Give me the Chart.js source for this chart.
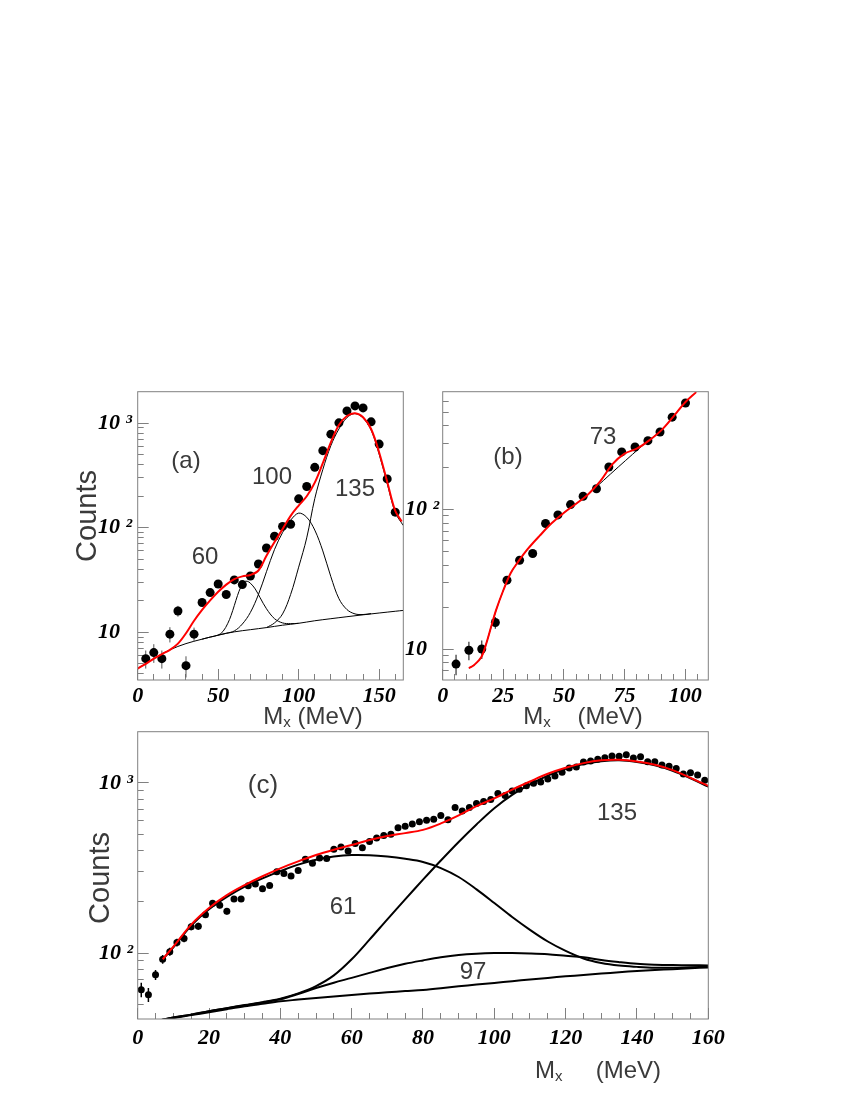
<!DOCTYPE html>
<html>
<head>
<meta charset="utf-8">
<script src="https://cdn.jsdelivr.net/npm/chart.js@4.4.1/dist/chart.umd.min.js"></script>
<style>
    html, body { margin: 0; padding: 0; background: #fff; }
    #wrap { position: relative; width: 850px; height: 1100px; }
    canvas { position: absolute; left: 0; top: 0; }
</style>
</head>
<body>
<div id="wrap">
    <canvas id="chartA" width="850" height="1100"></canvas>
    <canvas id="chartB" width="850" height="1100"></canvas>
    <canvas id="chartC" width="850" height="1100"></canvas>
</div>
<script>
// ---------- Panel (a) ----------
const xA = [5, 10, 15, 20, 25, 30, 35, 40, 45, 50, 55, 60, 65, 70, 75, 80, 85, 90, 95, 100,
            105, 110, 115, 120, 125, 130, 135, 140, 145, 150, 155, 160];
const yA = [5.6, 6.4, 5.6, 9.6, 16, 4.8, 9.6, 19.3, 24, 29, 23, 31.7, 28.6, 34.6, 45, 64, 83, 103, 108, 189,
            248, 378, 546, 785, 1007, 1310, 1462, 1400, 1030, 631, 293, 141];
const eA = [1.1, 1.3, 1.1, 1.6, 1.9, 1.1, 1.5, 1.2, 1.4, 1.5, 1.4, 1.6, 1.5, 1.7, 2, 2.5, 3, 3.3, 3.4, 4.5,
            5, 6.5, 8, 9, 10, 12, 13, 12, 10, 8, 5.5, 4];

const xRedA = [0, 5, 10, 15, 20, 25, 30, 35, 40, 45, 50, 55, 60, 65, 70, 75, 80, 85, 90, 95, 100,
               105, 110, 115, 120, 125, 130, 135, 140, 145, 150, 155, 160, 164];
const redA = [4.5, 5.0, 5.6, 6.2, 6.8, 7.8, 9.8, 12.9, 16.4, 20.2, 24.4, 28.6, 32.3, 34.3, 35.3, 39, 54, 73, 97, 130, 163,
              200, 270, 415, 655, 960, 1170, 1245, 1140, 880, 525, 275, 145, 115];

const xBgA = [0, 10, 20, 30, 40, 50, 60, 70, 80, 90, 100, 110, 120, 130, 140, 150, 160, 165];
const bgA = [4.5, 5.6, 6.8, 7.8, 8.6, 9.4, 10.1, 10.6, 11.1, 11.7, 12.2, 12.9, 13.5, 14.1, 14.7, 15.3, 15.9, 16.2];

const x60A = [40, 45, 50, 53, 56, 58, 60, 62, 64, 66, 68, 70, 73, 76, 80, 85, 90, 95, 100];
const c60A = [8.6, 9.0, 9.4, 10.2, 12.2, 14.5, 18, 22.5, 27, 30.3, 30.8, 29.5, 26, 21.5, 16.8, 13.5, 12.3, 12.1, 12.2];

const x100A = [50, 55, 60, 65, 70, 75, 80, 85, 90, 95, 100, 105, 110, 115, 120, 125, 130, 135, 140, 145];
const c100A = [9.4, 9.8, 10.3, 12, 15.5, 23, 38, 62, 90, 118, 138, 126, 95, 60, 34, 21, 16.5, 15, 14.8, 15.1];

const x135A = [80, 85, 90, 95, 100, 105, 110, 115, 120, 125, 130, 135, 140, 145, 150, 155, 160, 165];
const c135A = [11.1, 12.3, 15, 23, 42, 80, 190, 360, 610, 880, 1130, 1235, 1120, 860, 505, 265, 140, 105];

// ---------- Panel (b) ----------
const xB = [5.5, 10.8, 16.1, 21.7, 26.5, 31.7, 37.1, 42.4, 47.5, 52.7, 57.9, 63.4, 68.5, 73.8, 79.3,
            84.6, 89.6, 94.6, 100.1];
const yB = [7.8, 9.8, 10, 15.5, 31.2, 43.3, 48.4, 79.4, 91.6, 108.6, 124.5, 141, 202, 259, 281,
            312, 360, 460, 581];
const eB = [1.3, 1.5, 1.5, 1.5, 1.6, 1.8, 2, 2.5, 2.7, 3, 3.2, 3.4, 4, 4.5, 4.7, 5, 5.4, 6, 6.8];

const xRedB = [10.8, 13, 16, 18, 20, 22, 25, 28, 31, 35, 40, 45, 50, 55, 60, 65, 70, 75, 80, 85, 90, 95, 100, 104.5];
const redB = [7.3, 7.7, 8.8, 11, 14.5, 19, 26.4, 35, 42, 52, 65, 80, 95, 110, 129, 160, 212, 252, 273, 312, 368, 462, 588, 695];

const xBgB = [10.8, 13, 16, 18, 20, 22, 25, 28, 31, 35, 40, 45, 50, 55, 60, 72.4, 84.1, 90, 95, 100, 104.5];
const bgB = [7.3, 7.7, 8.8, 11, 14.5, 19, 26.4, 35, 42, 52, 65, 80, 95, 110, 129, 202, 305, 368, 462, 588, 695];

// ---------- Panel (c) ----------
const xC = [1, 3, 5, 7, 9, 11, 13, 15, 17, 19, 21, 23, 25, 27, 29, 31, 33, 35, 37, 39,
            41, 43, 45, 47, 49, 51, 53, 55, 57, 59, 61, 63, 65, 67, 69, 71, 73, 75, 77, 79,
            81, 83, 85, 87, 89, 91, 93, 95, 97, 99, 101, 103, 105, 107, 109, 111, 113, 115, 117, 119,
            121, 123, 125, 127, 129, 131, 133, 135, 137, 139, 141, 143, 145, 147, 149, 151, 153, 155, 157, 159];
const yC = [61, 57, 74.6, 92, 102, 115.5, 122, 143, 144, 168, 196, 191, 176, 208, 208, 249, 255, 239, 250, 301,
            294, 284, 306, 356, 337, 362, 360, 407, 420, 398, 441, 416, 453, 474, 491, 500, 546, 557, 573, 591,
            604, 612, 644, 607, 716, 685, 716, 757, 778, 799, 866, 843, 898, 918, 964, 995, 1013, 1055, 1099, 1155,
            1224, 1241, 1328, 1346, 1377, 1408, 1440, 1433, 1466, 1400, 1426, 1333, 1333, 1274, 1252, 1214, 1129, 1146, 1115, 1037];
const eC = [6, 5.4, 5, 5.5, 5.5, 6, 6.2, 6.8, 6.8, 7.3, 7.9, 7.8, 7.3, 8, 8, 8.7, 8.8, 8.5, 8.8, 9.6,
            9.5, 9.4, 9.7, 10.5, 10.2, 10.6, 10.6, 11.2, 11.4, 11, 11.6, 11.3, 11.8, 12, 12.3, 12.4, 13, 13.1, 13.3, 13.5,
            13.7, 13.8, 14.2, 13.8, 15, 14.6, 15, 15.4, 15.6, 15.8, 16.4, 16.2, 16.7, 16.9, 17.3, 17.6, 17.7, 18.1, 18.5, 19,
            19.5, 19.7, 20.3, 20.5, 20.7, 21, 21.2, 21.2, 21.4, 20.9, 21.1, 20.4, 20.4, 20, 19.8, 19.5, 18.8, 18.9, 18.7, 18];

const xFitC = [7, 10, 15, 20, 25, 30, 35, 40, 45, 50, 55, 60, 65, 70, 75, 80, 85, 90, 95, 100,
               105, 110, 115, 120, 125, 130, 135, 140, 145, 150, 155, 160];
const redC = [92, 109, 147, 184, 219, 251, 283, 315, 346, 377, 405, 432, 462, 488, 507, 530, 578, 645, 730, 812,
              914, 1020, 1133, 1228, 1307, 1358, 1368, 1335, 1278, 1190, 1072, 960];
const c61C = [92, 108, 145, 181, 214, 246, 275, 303, 331, 354, 369, 377, 376, 369, 358, 343, 316, 280, 237, 197,
              163, 137, 117, 103, 93, 87.5, 84.5, 83, 82, 82, 82.5, 83];

const xCompC = [6, 10, 15, 20, 25, 30, 35, 40, 45, 50, 55, 60, 65, 70, 75, 80, 85, 90, 95, 100,
                105, 110, 115, 120, 125, 130, 135, 140, 145, 150, 155, 160];
const bgC = [40.2, 41.6, 43.2, 44.9, 46.8, 48.7, 50.4, 52.1, 53.3, 54.5, 55.6, 56.7, 57.8, 58.9, 59.8, 60.7, 62.1, 63.8, 65.3, 66.8,
             68.4, 70, 71.5, 73, 74.4, 75.8, 77.2, 78.5, 79.5, 80.5, 81.5, 82.4];
const c97C = [40.2, 41.8, 43.5, 45.5, 47.4, 49.3, 51.2, 53.5, 57.5, 62.3, 67, 71.5, 76.5, 81.7, 86.5, 90.6, 94.5, 97.5, 99.2, 100,
              100, 99.5, 98.5, 96.5, 94.5, 91, 88.5, 86.5, 85.5, 85, 84.8, 84.7];
const c135C = [40.2, 41.8, 43.5, 45.6, 47.5, 49.5, 51.5, 54, 58, 64, 74, 92, 120, 158, 207, 270, 350, 450, 570, 710,
               850, 980, 1105, 1210, 1290, 1340, 1358, 1328, 1270, 1180, 1065, 950];

// Tick positions
const xMajorA = [0, 50, 100, 150];
const xMinorA = [10, 20, 30, 40, 60, 70, 80, 90, 110, 120, 130, 140, 160];
const xMajorB = [0, 25, 50, 75, 100];
const xMinorB = [5, 10, 15, 20, 30, 35, 40, 45, 55, 60, 65, 70, 80, 85, 90, 95, 105];
const xMajorC = [0, 20, 40, 60, 80, 100, 120, 140, 160];
const xMinorC = [5, 10, 15, 25, 30, 35, 45, 50, 55, 65, 70, 75, 85, 90, 95, 105, 110, 115, 125, 130, 135, 145, 150, 155];
const yMajorA = [10, 100, 1000];
const yMinorA = [4, 5, 6, 7, 8, 9, 20, 30, 40, 50, 60, 70, 80, 90, 200, 300, 400, 500, 600, 700, 800, 900];
const yMajorB = [10, 100];
const yMinorB = [7, 8, 9, 20, 30, 40, 50, 60, 70, 80, 90, 200, 300, 400, 500, 600];
const yMajorC = [100, 1000];
const yMinorC = [50, 60, 70, 80, 90, 200, 300, 400, 500, 600, 700, 800, 900];

// Helpers
function pts(xs, ys) {
    return xs.map((x, i) => ({x: x, y: ys[i]}));
}

function bars(xs, ys, es) {
    const d = [];
    xs.forEach((x, i) => {
        d.push({x: x, y: ys[i] - es[i]}, {x: x, y: ys[i] + es[i]}, {x: x, y: null});
    });
    return d;
}

function curve(xs, ys, color, width, order) {
    return {
        data: pts(xs, ys),
        borderColor: color,
        borderWidth: width,
        pointRadius: 0,
        tension: 0.35,
        fill: false,
        order: order
    };
}

function markers(xs, ys, radius) {
    return {
        data: pts(xs, ys),
        showLine: false,
        pointRadius: radius,
        pointBackgroundColor: '#000',
        pointBorderWidth: 0,
        order: 1
    };
}

function errorBars(xs, ys, es, color, width) {
    return {
        data: bars(xs, ys, es),
        borderColor: color,
        borderWidth: width,
        pointRadius: 0,
        tension: 0,
        spanGaps: false,
        order: 2
    };
}

const SUP = {2: '\u00B2', 3: '\u00B3'};
function powLabel(v) {
    const e = Math.round(Math.log10(v));
    return e === 1 ? '10' : '10 ' + SUP[e];
}

// Draw frame and free text
function drawText(ctx, t) {
    const parts = t.parts || [{text: t.text, size: t.size}];
    ctx.save();
    ctx.translate(t.x, t.y);
    if (t.rot) ctx.rotate(t.rot);
    ctx.fillStyle = '#3a3a3a';
    ctx.textBaseline = 'middle';
    ctx.textAlign = 'left';
    let w = 0;
    parts.forEach(p => {
        ctx.font = p.size + 'px "Liberation Sans"';
        p.w = ctx.measureText(p.text).width;
        w += p.w;
    });
    let x = -w / 2;
    parts.forEach(p => {
        ctx.font = p.size + 'px "Liberation Sans"';
        ctx.fillText(p.text, x, p.dy || 0);
        x += p.w;
    });
    ctx.restore();
}

const decor = {
    id: 'decor',
    afterDraw(chart, args, opts) {
        const ctx = chart.ctx;
        const a = chart.chartArea;
        ctx.save();
        ctx.strokeStyle = '#808080';
        ctx.lineWidth = 1;
        ctx.strokeRect(a.left, a.top, a.right - a.left, a.bottom - a.top);
        (opts.texts || []).forEach(t => drawText(ctx, t));
        ctx.restore();
    }
};

const tickFont = {family: 'Liberation Serif', size: 22, style: 'italic', weight: 'bold'};

function buildScales(c) {
    const setTicks = list => scale => { scale.ticks = list.map(v => ({value: v})); };
    return {
        x: {
            type: 'linear', position: 'bottom', weight: 1,
            min: c.xMin, max: c.xMax,
            afterBuildTicks: setTicks(c.xMajor),
            afterFit: s => { s.height = 40; },
            grid: {drawOnChartArea: false, tickLength: -11, tickColor: '#808080', tickWidth: 1},
            border: {display: false},
            ticks: {autoSkip: false, maxRotation: 0, padding: c.xPad, color: '#000', font: tickFont,
                    callback: v => String(v)}
        },
        xm: {
            type: 'linear', position: 'bottom', weight: 0,
            min: c.xMin, max: c.xMax,
            afterBuildTicks: setTicks(c.xMinor),
            afterFit: s => { s.height = 0; },
            grid: {drawOnChartArea: false, tickLength: -6, tickColor: '#808080', tickWidth: 1},
            border: {display: false},
            ticks: {display: false, autoSkip: false}
        },
        y: {
            type: 'logarithmic', position: 'left', weight: 1,
            min: c.yMin, max: c.yMax,
            afterBuildTicks: setTicks(c.yMajor),
            afterFit: s => { s.width = c.yAxisW; },
            grid: {drawOnChartArea: false, tickLength: -11, tickColor: '#808080', tickWidth: 1},
            border: {display: false},
            ticks: {autoSkip: false, crossAlign: 'far', color: '#000', font: tickFont,
                    callback: v => powLabel(v)}
        },
        ym: {
            type: 'logarithmic', position: 'left', weight: 0,
            min: c.yMin, max: c.yMax,
            afterBuildTicks: setTicks(c.yMinor),
            afterFit: s => { s.width = 0; },
            grid: {drawOnChartArea: false, tickLength: -6, tickColor: '#808080', tickWidth: 1},
            border: {display: false},
            ticks: {display: false, autoSkip: false}
        }
    };
}

function makeChart(id, c, datasets, texts) {
    const area = c.area;
    return new Chart(document.getElementById(id), {
        type: 'line',
        data: {datasets: datasets},
        options: {
            responsive: false,
            animation: false,
            devicePixelRatio: 1,
            events: [],
            layout: {
                padding: {
                    left: area.left - c.yAxisW,
                    top: area.top,
                    right: 850 - area.right,
                    bottom: 1100 - area.bottom - 40
                }
            },
            plugins: {
                legend: {display: false},
                tooltip: {enabled: false},
                decor: {texts: texts}
            },
            scales: buildScales(c)
        },
        plugins: [decor]
    });
}

const MX = (x, y, gap) => ({x: x, y: y, parts: [
    {text: 'M', size: 24}, {text: 'x', size: 15, dy: 6}, {text: gap + '(MeV)', size: 24}
]});

// Panel (a)
makeChart('chartA', {
    area: {left: 137.7, top: 391.7, right: 403.3, bottom: 680},
    yAxisW: 39.7, xMin: 0, xMax: 165, yMin: 3.5, yMax: 2000, xPad: 14,
    xMajor: xMajorA, xMinor: xMinorA, yMajor: yMajorA, yMinor: yMinorA
}, [
    curve(xRedA, redA, '#ff0000', 2, 0),
    markers(xA, yA, 4.5),
    errorBars(xA, yA, eA, '#555', 1),
    curve(xBgA, bgA, '#000', 1, 3),
    curve(x60A, c60A, '#000', 1, 3),
    curve(x100A, c100A, '#000', 1, 3),
    curve(x135A, c135A, '#000', 1, 3)
], [
    {text: '(a)', x: 186, y: 461, size: 24},
    {text: '60', x: 205, y: 557, size: 24},
    {text: '100', x: 272, y: 477, size: 24},
    {text: '135', x: 355, y: 489, size: 24},
    {text: 'Counts', x: 88, y: 516, size: 29, rot: -Math.PI / 2},
    MX(313, 717, ' ')
]);

// Panel (b)
makeChart('chartB', {
    area: {left: 442.7, top: 391.7, right: 708.3, bottom: 680},
    yAxisW: 37.7, xMin: 0, xMax: 109.5, yMin: 6, yMax: 700, xPad: 14,
    xMajor: xMajorB, xMinor: xMinorB, yMajor: yMajorB, yMinor: yMinorB
}, [
    curve(xRedB, redB, '#ff0000', 2, 0),
    markers(xB, yB, 4.5),
    errorBars(xB, yB, eB, '#333', 1.2),
    curve(xBgB, bgB, '#000', 1, 3)
], [
    {text: '(b)', x: 508, y: 457, size: 24},
    {text: '73', x: 603, y: 437, size: 24},
    MX(583, 717, '    ')
]);

// Panel (c)
makeChart('chartC', {
    area: {left: 137.7, top: 731.7, right: 708.3, bottom: 1019},
    yAxisW: 38.7, xMin: 0, xMax: 160, yMin: 41, yMax: 2000, xPad: 17,
    xMajor: xMajorC, xMinor: xMinorC, yMajor: yMajorC, yMinor: yMinorC
}, [
    curve(xFitC, redC, '#ff0000', 2, 0),
    markers(xC, yC, 3.5),
    errorBars(xC, yC, eC, '#000', 1.5),
    curve(xCompC, bgC, '#000', 2, 3),
    curve(xCompC, c97C, '#000', 2, 3),
    curve(xCompC, c135C, '#000', 2, 3),
    curve(xFitC, c61C, '#000', 2, 3)
], [
    {text: '(c)', x: 263, y: 786, size: 26},
    {text: '61', x: 343, y: 907, size: 24},
    {text: '135', x: 617, y: 813, size: 24},
    {text: '97', x: 473, y: 972, size: 24},
    {text: 'Counts', x: 101, y: 878, size: 29, rot: -Math.PI / 2},
    MX(598, 1071, '     ')
]);
</script>
</body>
</html>
